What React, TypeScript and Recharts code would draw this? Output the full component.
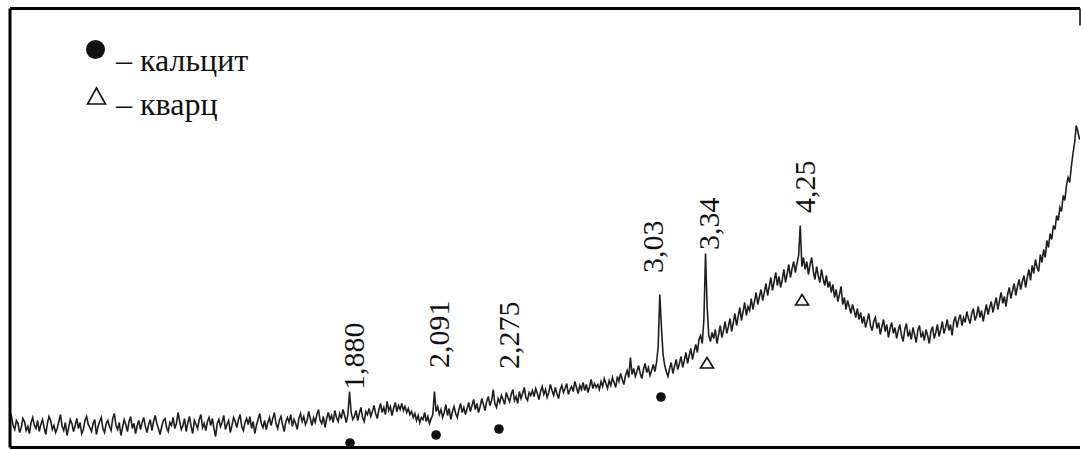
import React from 'react';
import { ComposedChart, Line, Scatter, XAxis, YAxis, ReferenceLine } from 'recharts';

// scan grid, 2θ (Cu Kα) going down from the left edge
const scanStart = 69.2;
const scanStep = 0.1;

// intensity, one value per grid step (2 degrees per row)
const intensity = [
  36, 31, 22, 18, 27, 24, 15, 20, 29, 26, 17, 21, 14, 25, 30, 22, 19, 27, 16, 23,
  28, 20, 13, 24, 31, 27, 18, 22, 15, 19, 26, 33, 21, 17, 25, 12, 20, 28, 24, 16,
  22, 29, 19, 25, 14, 18, 27, 31, 23, 20, 16, 24, 28, 13, 21, 26, 30, 19, 15, 24,
  27, 21, 17, 29, 34, 22, 18, 25, 12, 20, 28, 23, 16, 26, 31, 19, 24, 14, 22, 27,
  18, 25, 30, 21, 15, 23, 28, 17, 26, 32, 24, 19, 13, 21, 27, 29, 20, 16, 25, 22,
  30, 19, 24, 35, 26, 18, 22, 29, 16, 25, 31, 21, 14, 27, 23, 19, 28, 33, 20, 24,
  17, 26, 30, 22, 29, 19, 11, 24, 28, 21, 25, 32, 18, 23, 27, 15, 22, 30, 26, 20,
  28, 33, 21, 17, 25, 29, 23, 31, 19, 26, 14, 22, 28, 34, 24, 20, 27, 18, 25, 30,
  22, 29, 35, 24, 19, 27, 31, 23, 16, 26, 30, 25, 33, 21, 28, 24, 18, 29, 34, 26,
  31, 23, 27, 36, 29, 22, 30, 25, 33, 38, 27, 24, 31, 20, 29, 35, 28, 32, 25, 37,
  30, 26, 34, 29, 38, 32, 25, 33, 56, 35, 28, 31, 37, 27, 34, 40, 30, 26, 36, 33,
  39, 31, 36, 42, 34, 29, 38, 44, 35, 40, 33, 46, 37, 41, 32, 39, 45, 36, 42, 38,
  44, 37, 41, 35, 39, 33, 36, 30, 34, 27, 32, 25, 30, 28, 35, 26, 31, 24, 29, 33,
  56, 36, 41, 33, 38, 30, 35, 43, 32, 39, 28, 36, 41, 34, 30, 38, 44, 35, 40, 33,
  39, 45, 36, 42, 48, 38, 44, 35, 41, 49, 43, 37, 46, 51, 42, 47, 58, 44, 40, 49,
  45, 52, 48, 43, 55, 50, 46, 53, 58, 47, 51, 44, 56, 49, 54, 60, 50, 47, 55, 52,
  57, 51, 59, 54, 48, 56, 61, 53, 58, 50, 55, 63, 57, 52, 60, 54, 49, 58, 62, 55,
  59, 64, 53, 58, 61, 56, 66, 60, 54, 62, 58, 65, 57, 63, 55, 61, 68, 59, 64, 60,
  63, 58, 66, 61, 69, 64, 59, 67, 62, 70, 65, 60, 71, 66, 74, 68, 63, 72, 77, 70,
  90, 73, 79, 71, 76, 82, 74, 69, 78, 84, 75, 80, 72, 77, 83, 76, 85, 101, 153, 120,
  93, 82, 76, 71, 79, 85, 74, 81, 88, 78, 84, 91, 80, 87, 95, 84, 92, 99, 88, 96,
  103, 95, 108, 112, 104, 128, 194, 140, 112, 106, 115, 109, 118, 104, 113, 122, 110, 117, 126, 114,
  121, 129, 116, 125, 134, 122, 131, 140, 127, 136, 145, 132, 141, 137, 149, 138, 146, 155, 143, 151,
  158, 147, 155, 164, 152, 161, 170, 157, 166, 175, 162, 171, 160, 168, 178, 165, 174, 183, 170, 179,
  186, 175, 184, 192, 222, 181, 190, 178, 186, 173, 183, 190, 176, 168, 181, 172, 165, 178, 169, 162,
  172, 160, 166, 155, 163, 150, 158, 146, 153, 161, 143, 150, 138, 147, 141, 134, 143, 137, 130, 139,
  128, 135, 124, 131, 120, 127, 134, 122, 117, 126, 130, 119, 125, 113, 121, 128, 116, 123, 110, 119,
  125, 114, 120, 109, 117, 123, 112, 106, 118, 124, 111, 116, 108, 120, 113, 105, 117, 122, 110, 115,
  107, 118, 112, 104, 116, 121, 109, 115, 123, 111, 118, 126, 114, 120, 128, 117, 123, 112, 126, 131,
  120, 128, 133, 122, 130, 125, 136, 129, 124, 134, 139, 127, 132, 141, 130, 137, 126, 135, 143, 133,
  140, 146, 135, 143, 150, 138, 147, 155, 144, 151, 141, 153, 160, 149, 157, 164, 152, 161, 168, 158,
  166, 172, 160, 170, 178, 167, 182, 174, 188, 180, 176, 193, 185, 198, 190, 207, 200, 214, 208, 222,
  218, 232, 227, 240, 236, 252, 247, 262, 270, 265, 281, 294, 305, 322, 316, 308,
];

// phase marks under the peaks
const calciteTheta = [48.37, 43.1, 39.25, 29.33];
const calciteLevel = [4.5, 12.5, 18.5, 50.5];
const quartzTheta = [26.51, 20.69];
const quartzLevel = [84.5, 147.5];

// d-spacing labels (Å)
const peakLabels = ['1,880', '2,091', '2,275', '3,03', '3,34', '4,25'];
const labelTheta = [47.51, 42.31, 38.02, 29.2, 25.77, 19.89];
const labelLevel = [57.5, 79.5, 78.5, 174.5, 197.5, 234.5];

const xMin = 3.67;
const xMax = 69.19;
const yMax = 439;

const serif = "'Liberation Serif', 'Times New Roman', serif";
const ink = '#111';

const scan = intensity.map((v, i) => ({ x: Number((scanStart - i * scanStep).toFixed(1)), y: v }));
const calcite = calciteTheta.map((x, i) => ({ x, y: calciteLevel[i] }));
const quartz = quartzTheta.map((x, i) => ({ x, y: quartzLevel[i] }));
const labels = peakLabels.map((label, i) => ({ x: labelTheta[i], y: labelLevel[i], label }));

const Dot = (p: any) => <circle cx={p.cx} cy={p.cy} r={4.8} fill={ink} />;

const Triangle = (p: any) => (
  <polygon
    points={`${p.cx},${p.cy - 5.5} ${p.cx - 6.5},${p.cy + 5} ${p.cx + 6.5},${p.cy + 5}`}
    fill="#fff"
    stroke={ink}
    strokeWidth={1.6}
  />
);

const PeakText = (p: any) => (
  <text
    x={p.cx}
    y={p.cy}
    transform={`rotate(-90 ${p.cx} ${p.cy})`}
    style={{ fontFamily: serif, fontSize: 30 }}
    fill={ink}
  >
    {p.payload.label}
  </text>
);

const PhaseKey = () => (
  <svg width={300} height={130} style={{ position: 'absolute', left: 0, top: 0 }}>
    <circle cx={95.5} cy={49.5} r={9.5} fill={ink} />
    <text x={116} y={71} style={{ fontFamily: serif, fontSize: 32 }} fill={ink}>– кальцит</text>
    <polygon points="96.5,88 87.5,104 105.5,104" fill="#fff" stroke={ink} strokeWidth={1.6} />
    <text x={116} y={115} style={{ fontFamily: serif, fontSize: 32 }} fill={ink}>– кварц</text>
  </svg>
);

export default function App() {
  return (
    <div style={{ position: 'absolute', left: 0, top: 0, width: 1081, height: 450, background: '#fff' }}>
      <ComposedChart
        width={1081}
        height={450}
        margin={{ top: 8.5, right: 1, bottom: 2.5, left: 10 }}
      >
        <XAxis type="number" dataKey="x" domain={[xMin, xMax]} reversed hide allowDataOverflow />
        <YAxis type="number" dataKey="y" domain={[0, yMax]} hide allowDataOverflow />
        <Line
          data={scan}
          dataKey="y"
          type="linear"
          stroke="#1e1e1e"
          strokeWidth={1.6}
          dot={false}
          isAnimationActive={false}
        />
        <Scatter data={calcite} dataKey="y" shape={Dot} isAnimationActive={false} />
        <Scatter data={quartz} dataKey="y" shape={Triangle} isAnimationActive={false} />
        <Scatter data={labels} dataKey="y" shape={PeakText} isAnimationActive={false} />
        <ReferenceLine y={yMax} stroke="#000" strokeWidth={3} />
        <ReferenceLine y={0} stroke="#000" strokeWidth={3} />
        <ReferenceLine x={xMax} stroke="#000" strokeWidth={3} />
        <ReferenceLine
          segment={[{ x: xMin, y: yMax }, { x: xMin, y: yMax - 17 }]}
          stroke="#000"
          strokeWidth={1.5}
        />
      </ComposedChart>
      <PhaseKey />
    </div>
  );
}
